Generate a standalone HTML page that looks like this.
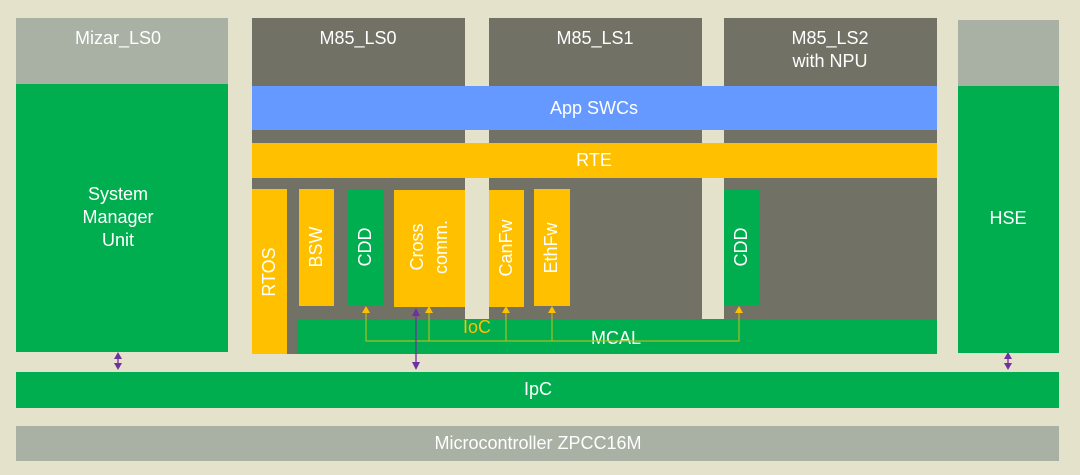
<!DOCTYPE html>
<html><head><meta charset="utf-8"><style>
html,body{margin:0;padding:0;background:#e4e2cb;}
svg{display:block}
text{font-family:"Liberation Sans",sans-serif;fill:#fff;font-size:18px;text-anchor:middle;dominant-baseline:middle}
</style></head><body>
<svg width="1080" height="475" viewBox="0 0 1080 475" xmlns="http://www.w3.org/2000/svg">
<rect x="0" y="0" width="1080" height="475" fill="#e4e2cb"/>
<!-- Mizar -->
<rect x="16" y="18" width="212" height="66" fill="#a9b0a4"/>
<rect x="16" y="84" width="212" height="268" fill="#00ae4f"/>
<text x="118" y="39">Mizar_LS0</text>
<text x="118" y="195">System</text>
<text x="118" y="218">Manager</text>
<text x="118" y="241">Unit</text>
<!-- Core panels -->
<rect x="252" y="18" width="213" height="336" fill="#717265"/>
<rect x="489" y="18" width="213" height="320" fill="#717265"/>
<rect x="724" y="18" width="213" height="320" fill="#717265"/>
<text x="358" y="39">M85_LS0</text>
<text x="595" y="39">M85_LS1</text>
<text x="830" y="39">M85_LS2</text>
<text x="830" y="62">with NPU</text>
<!-- App SWCs / RTE -->
<rect x="252" y="86" width="685" height="44" fill="#6699ff"/>
<text x="594" y="109">App SWCs</text>
<rect x="252" y="143" width="685" height="35" fill="#ffc000"/>
<text x="594" y="161">RTE</text>
<!-- components -->
<rect x="252" y="189" width="35" height="165" fill="#ffc000"/>
<rect x="299" y="189" width="35" height="117" fill="#ffc000"/>
<rect x="348" y="189" width="36" height="116" fill="#00ae4f"/>
<rect x="394" y="190" width="71" height="117" fill="#ffc000"/>
<rect x="489" y="190" width="35" height="117" fill="#ffc000"/>
<rect x="534" y="189" width="36" height="117" fill="#ffc000"/>
<rect x="724" y="189" width="35" height="116" fill="#00ae4f"/>
<text transform="translate(270,272) rotate(-90)">RTOS</text>
<text transform="translate(317,247) rotate(-90)">BSW</text>
<text transform="translate(366,247) rotate(-90)">CDD</text>
<text transform="translate(418,247) rotate(-90)">Cross</text>
<text transform="translate(442,247) rotate(-90)">comm.</text>
<text transform="translate(507,248) rotate(-90)">CanFw</text>
<text transform="translate(552,248) rotate(-90)">EthFw</text>
<text transform="translate(742,247) rotate(-90)">CDD</text>
<!-- MCAL -->
<rect x="297" y="319" width="640" height="35" fill="#00ae4f"/>
<text x="616" y="339">MCAL</text>
<text x="477" y="328" style="fill:#ffc000">IoC</text>
<g stroke="#a8bf1e" stroke-width="1.2" fill="none">
<polyline points="366,310 366,341 739,341 739,310"/>
<line x1="429" y1="310" x2="429" y2="341"/>
<line x1="506" y1="310" x2="506" y2="341"/>
<line x1="552" y1="310" x2="552" y2="341"/>
</g>
<g fill="#ffc000">
<polygon points="362,313 370,313 366,306"/>
<polygon points="425,313 433,313 429,306"/>
<polygon points="502,313 510,313 506,306"/>
<polygon points="548,313 556,313 552,306"/>
<polygon points="735,313 743,313 739,306"/>
</g>
<!-- HSE -->
<rect x="958" y="20" width="101" height="66" fill="#a9b0a4"/>
<rect x="958" y="86" width="101" height="267" fill="#00ae4f"/>
<text x="1008" y="219">HSE</text>
<!-- IpC -->
<rect x="16" y="372" width="1043" height="36" fill="#00ae4f"/>
<text x="538" y="390">IpC</text>
<!-- Microcontroller -->
<rect x="16" y="426" width="1043" height="35" fill="#a9b0a4"/>
<text x="538" y="444">Microcontroller ZPCC16M</text>
<!-- purple arrows -->
<g stroke="#7030a0" stroke-width="1.3" fill="#7030a0">
<line x1="416" y1="312" x2="416" y2="366"/>
<polygon points="412,316 420,316 416,308" stroke="none"/>
<polygon points="412,362 420,362 416,370" stroke="none"/>
<line x1="118" y1="356" x2="118" y2="366"/>
<polygon points="114,359 122,359 118,352" stroke="none"/>
<polygon points="114,363 122,363 118,370" stroke="none"/>
<line x1="1008" y1="356" x2="1008" y2="366"/>
<polygon points="1004,359 1012,359 1008,352" stroke="none"/>
<polygon points="1004,363 1012,363 1008,370" stroke="none"/>
</g>
</svg>
</body></html>
